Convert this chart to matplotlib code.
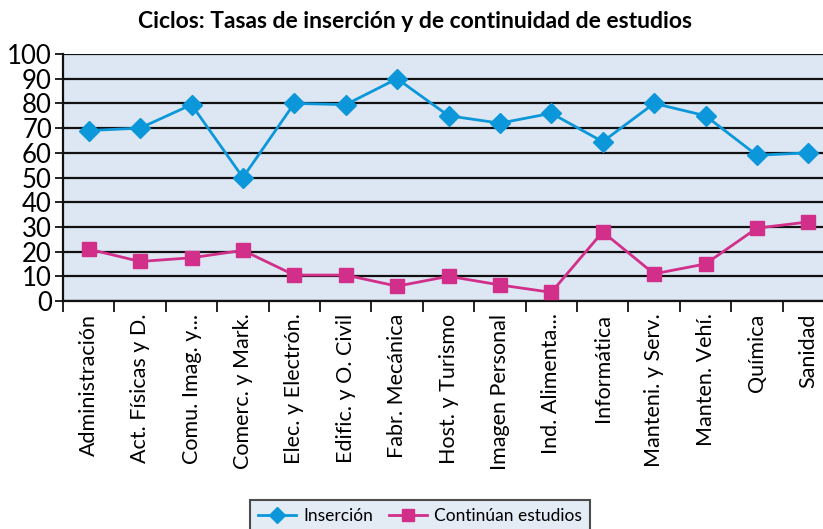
import numpy as np
import matplotlib
matplotlib.use("Agg")
import matplotlib.pyplot as plt

plt.rcParams['font.family'] = ['Lato', 'DejaVu Sans']

ciclos = ["Administración", "Act. Físicas y D.", "Comu. Imag. y...",
          "Comerc. y Mark.", "Elec. y Electrón.", "Edific. y O. Civil",
          "Fabr. Mecánica", "Host. y Turismo", "Imagen Personal",
          "Ind. Alimenta...", "Informática", "Manteni. y Serv.",
          "Manten. Vehí.", "Química", "Sanidad"]
insercion = [69, 70, 79.5, 50, 80, 79.5, 90, 75, 72, 76, 64.5, 80, 75, 59, 60]
continuan = [21, 16, 17.5, 20.5, 10.5, 10.5, 6, 10, 6.5, 3.5, 28, 11, 15, 29.5, 32]

azul = "#0b97d9"
magenta = "#d12f8a"

fig = plt.figure(figsize=(8.23, 5.29), dpi=100)
ax = fig.add_axes([63/823, (529-301)/529, (834-63)/823, (301-54)/529])
ax.set_facecolor("#dde7f3")

x = np.arange(len(ciclos))
ax.plot(x, insercion, color=azul, lw=2, marker="D", ms=10, label="Inserción",
        zorder=3)
ax.plot(x, continuan, color=magenta, lw=2, marker="s", ms=10,
        label="Continúan estudios", zorder=3)

ax.set_ylim(0, 100)
ax.set_xlim(-0.5, len(ciclos) - 0.5)
ax.set_yticks(range(0, 101, 10))
ax.yaxis.grid(True, color="#111111", lw=1.6)
ax.set_axisbelow(True)

ax.set_xticks(x)
ax.set_xticklabels(ciclos, rotation=90, fontsize=15.5)
ax.set_xticks(np.arange(len(ciclos) + 1) - 0.5, minor=True)
ax.tick_params(axis="x", which="major", length=0, pad=9)
ax.tick_params(axis="x", which="minor", length=8, width=1.3, color="#111111")
ax.tick_params(axis="y", length=6, width=1.3, labelsize=18.5, pad=2,
               color="#111111")

for s in ["top", "right"]:
    ax.spines[s].set_visible(False)
for s in ["left", "bottom"]:
    ax.spines[s].set_linewidth(1.6)
    ax.spines[s].set_color("#111111")

fig.text(415/823, 1 - 22/529, "Ciclos: Tasas de inserción y de continuidad de estudios",
         ha="center", va="center", fontsize=16.5, fontweight="bold")

leg = fig.legend(loc="center", bbox_to_anchor=(420/823, 1 - 516/529), ncol=2,
                 fontsize=12.5, frameon=True, fancybox=False, handlelength=2.2,
                 handletextpad=0.4, columnspacing=0.9, borderpad=0.45,
                 markerscale=0.85)
leg.get_frame().set_facecolor("#dde7f3")
leg.get_frame().set_edgecolor("#222222")
leg.get_frame().set_linewidth(1.5)

fig.savefig("out.png", dpi=100)
